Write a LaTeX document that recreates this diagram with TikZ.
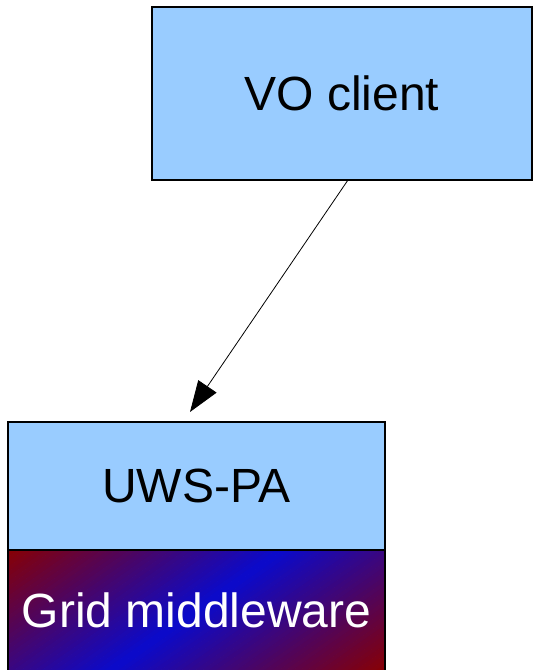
\documentclass[tikz,border=0pt]{standalone}
\usepackage{fontspec}
\setmainfont{Liberation Sans}
\usetikzlibrary{arrows.meta}
\definecolor{boxblue}{HTML}{99CCFF}
\definecolor{gdred}{HTML}{8A0000}
\definecolor{gdblue}{HTML}{0A0ACC}
\tikzset{
  box/.style={rectangle, draw=black, line width=1.2bp, fill=boxblue, inner sep=0pt, outer sep=0pt,
    font=\fontsize{48bp}{58bp}\selectfont, text=black},
  arr/.style={line width=0.8bp, -{Triangle[length=31bp,width=22bp]}}
}
\begin{document}
\begin{tikzpicture}[x=1bp,y=1bp]
\useasboundingbox (0,0) rectangle (533,670);
\clip (0,0) rectangle (533,670);
\node[box, minimum width=380bp, minimum height=173bp] (vo) at (342,576.5) {VO client};
\node[box, minimum width=377bp, minimum height=128bp] (uws) at (196.5,184) {UWS-PA};
\begin{scope}
  \clip (8,-1) rectangle (385,120);
  \begin{scope}[shift={(196.5,59.5)}, rotate=-55]
    \foreach \i in {0,...,79} {
      \pgfmathsetmacro\xa{-160+4*\i}
      \pgfmathsetmacro\p{abs(\xa+2)/160*100}
      \fill[gdred!\p!gdblue] (\xa,-300) rectangle (\xa+4.6,300);
    }
  \end{scope}
\end{scope}
\node[box, fill=none, minimum width=377bp, minimum height=121bp,
  anchor=north] (grid) at (196.5,120) {};
\node[font=\fontsize{48bp}{58bp}\selectfont, text=white] (gridlabel) at (grid.center) {Grid middleware};
\draw[arr] ([xshift=6bp]vo.south) -- ([xshift=-6.5bp,yshift=10bp]uws.north);
\end{tikzpicture}
\end{document}
